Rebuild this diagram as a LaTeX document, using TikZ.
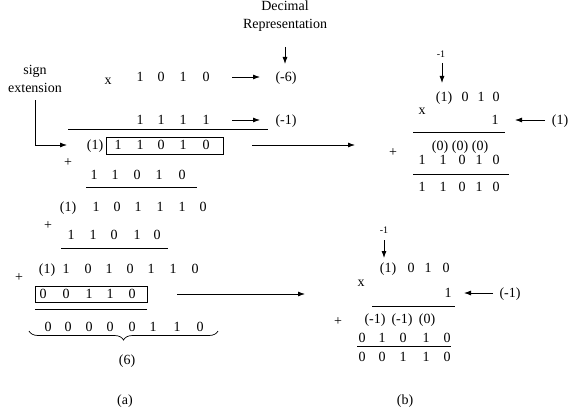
\documentclass[tikz,border=0pt]{standalone}
\usepackage{fontspec}
\setmainfont{Liberation Serif}
\usetikzlibrary{arrows.meta,decorations.pathreplacing}
\begin{document}
\begin{tikzpicture}[x=1pt,y=-1pt,
  dg/.style={font=\fontsize{14}{16}\selectfont, inner sep=0pt, anchor=base, yshift=-4.7pt},
  sm/.style={font=\fontsize{10}{12}\selectfont, inner sep=0pt},
  lbl/.style={font=\fontsize{14}{17.5}\selectfont, inner sep=0pt, align=center},
  arr/.style={-{Latex[length=7pt,width=5pt]}, line width=0.8pt},
  rule/.style={line width=0.8pt},
  bx/.style={line width=0.8pt}]
\useasboundingbox (0,0) rectangle (569,409);

% ---------- (a) ----------
\node[lbl] (dec) at (285,16) {Decimal\\Representation};
\coordinate (decA) at (285,47); \coordinate (decB) at (285,64);
\draw[arr] (decA) -- (decB);

\node[lbl] (sign) at (35,79) {sign\\extension};

\node[dg] (xa) at (108,80) {x};
\foreach \p/\t [count=\i] in {140/1,161/0,183/1,206/0} \node[dg] (ra\i) at (\p,77) {\t};
\coordinate (a1s) at (232,77); \coordinate (a1e) at (260,77);
\draw[arr] (a1s) -- (a1e);
\node[dg] (m6) at (286,77) {(-6)};

\foreach \p/\t [count=\i] in {140/1,161/1,183/1,206/1} \node[dg] (rb\i) at (\p,120) {\t};
\coordinate (a2s) at (232,120); \coordinate (a2e) at (260,120);
\draw[arr] (a2s) -- (a2e);
\node[dg] (m1) at (286,120) {(-1)};

\coordinate (l1a) at (68,129); \coordinate (l1b) at (268,129);
\draw[rule] (l1a) -- (l1b);

\node[dg] (rc0) at (95,145) {(1)};
\foreach \p/\t [count=\i] in {118/1,140/1,161/0,183/1,206/0} \node[dg] (rc\i) at (\p,145) {\t};
\draw[bx] (106,137) rectangle (223,154);
\coordinate (a3s) at (252,145); \coordinate (a3e) at (355,145);
\draw[arr] (a3s) -- (a3e);

\coordinate (se1) at (35,100); \coordinate (se2) at (67,145);
\draw[arr] (se1) |- (se2);

\node[dg] (p1) at (68,162) {+};
\foreach \p/\t [count=\i] in {94/1,115/1,137/0,159/1,182/0} \node[dg] (rd\i) at (\p,175) {\t};
\coordinate (l2a) at (86,187); \coordinate (l2b) at (197,187);
\draw[rule] (l2a) -- (l2b);

\node[dg] (re0) at (68,207) {(1)};
\foreach \p/\t [count=\i] in {96/1,117/0,138/1,160/1,182/1,203/0} \node[dg] (re\i) at (\p,207) {\t};
\node[dg] (p2) at (48,225) {+};
\foreach \p/\t [count=\i] in {71/1,93/1,114/0,137/1,157/0} \node[dg] (rf\i) at (\p,235) {\t};
\coordinate (l3a) at (61,248); \coordinate (l3b) at (168,248);
\draw[rule] (l3a) -- (l3b);

\node[dg] (p3) at (19,277) {+};
\node[dg] (rg0) at (47,269) {(1)};
\foreach \p/\t [count=\i] in {66/1,88/0,109/1,130/0,151/1,173/1,195/0} \node[dg] (rg\i) at (\p,269) {\t};

\foreach \p/\t [count=\i] in {43/0,66/0,89/1,110/1,132/0} \node[dg] (rh\i) at (\p,294) {\t};
\draw[bx] (35,286) rectangle (147,302);
\coordinate (a4s) at (177,294); \coordinate (a4e) at (305,294);
\draw[arr] (a4s) -- (a4e);
\coordinate (l4a) at (35,309); \coordinate (l4b) at (147,309);
\draw[rule] (l4a) -- (l4b);

\foreach \p/\t [count=\i] in {48/0,68/0,89/0,110/0,132/0,153/1,177/1,200/0} \node[dg] (ri\i) at (\p,327) {\t};
\coordinate (br1) at (29,331); \coordinate (br2) at (218,331);
\draw[line width=0.7pt, decorate, decoration={brace, amplitude=9pt, mirror}] (br1) -- (br2);
\node[dg] (six) at (127,360) {(6)};
\node[dg] (capa) at (125,400) {(a)};

% ---------- (b) top ----------
\node[sm] (mt) at (441,54) {-1};
\coordinate (t1) at (442,63); \coordinate (t2) at (442,83);
\draw[arr] (t1) -- (t2);
\node[dg] (ta0) at (444,97) {(1)};
\foreach \p/\t [count=\i] in {465/0,481/1,496/0} \node[dg] (ta\i) at (\p,97) {\t};
\node[dg] (xb) at (422,110) {x};
\node[dg] (tb1) at (495,120) {1};
\coordinate (t3s) at (545,120); \coordinate (t3e) at (515,120);
\draw[arr] (t3s) -- (t3e);
\node[dg] (tone) at (560,120) {(1)};
\coordinate (l5a) at (413,132); \coordinate (l5b) at (505,132);
\draw[rule] (l5a) -- (l5b);
\foreach \p [count=\i] in {440,460,480} \node[dg] (tc\i) at (\p,146) {(0)};
\node[dg] (p4) at (393,152) {+};
\foreach \p/\t [count=\i] in {422/1,443/1,462/0,479/1,496/0} \node[dg] (td\i) at (\p,160) {\t};
\coordinate (l6a) at (413,174); \coordinate (l6b) at (509,174);
\draw[rule] (l6a) -- (l6b);
\foreach \p/\t [count=\i] in {422/1,443/1,462/0,479/1,496/0} \node[dg] (te\i) at (\p,187) {\t};

% ---------- (b) bottom ----------
\node[sm] (mb) at (384,230) {-1};
\coordinate (b1) at (384,240); \coordinate (b2) at (384,258);
\draw[arr] (b1) -- (b2);
\node[dg] (ua0) at (388,268) {(1)};
\foreach \p/\t [count=\i] in {411/0,428/1,446/0} \node[dg] (ua\i) at (\p,268) {\t};
\node[dg] (xc) at (361,282) {x};
\node[dg] (ub1) at (448,293) {1};
\coordinate (b3s) at (493,293); \coordinate (b3e) at (464,293);
\draw[arr] (b3s) -- (b3e);
\node[dg] (uone) at (510,293) {(-1)};
\coordinate (l7a) at (372,306); \coordinate (l7b) at (455,306);
\draw[rule] (l7a) -- (l7b);
\node[dg] (p5) at (338,321) {+};
\foreach \p/\t [count=\i] in {375/(-1),402/(-1),427/(0)} \node[dg] (uc\i) at (\p,319) {\t};
\foreach \p/\t [count=\i] in {362/0,382/1,403/0,426/1,447/0} \node[dg] (ud\i) at (\p,338) {\t};
\coordinate (l8a) at (357,346); \coordinate (l8b) at (451,346);
\draw[rule] (l8a) -- (l8b);
\foreach \p/\t [count=\i] in {362/0,382/0,403/1,426/1,447/0} \node[dg] (ue\i) at (\p,357) {\t};
\node[dg] (capb) at (405,400) {(b)};
\end{tikzpicture}
\end{document}
